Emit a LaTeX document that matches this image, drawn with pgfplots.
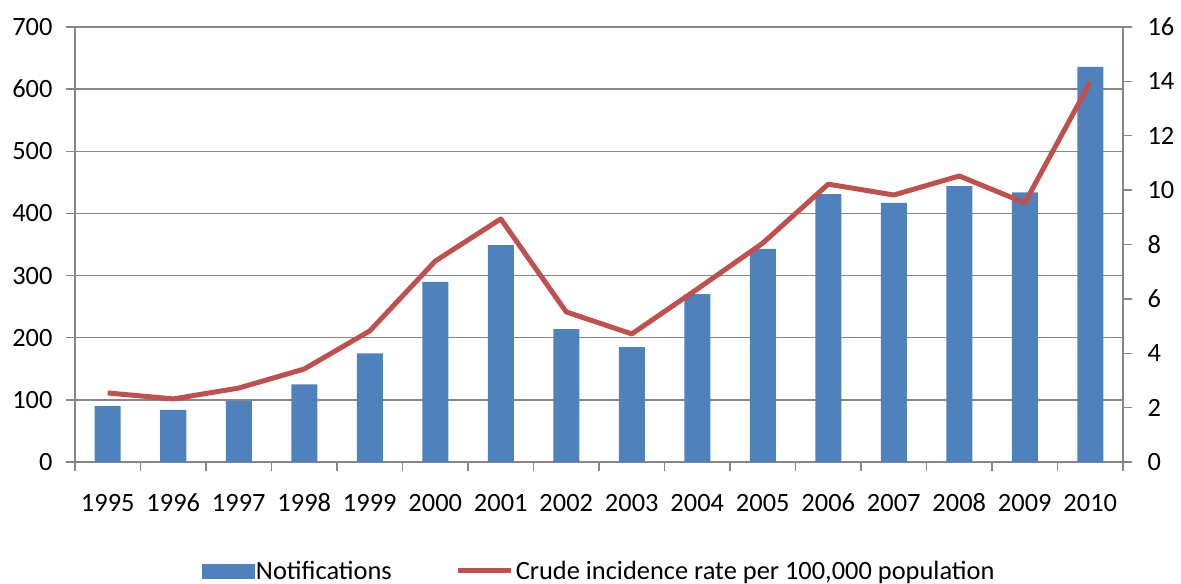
\documentclass[border=0pt]{standalone}
\usepackage{pgfplots}
\pgfplotsset{compat=1.18}
\usepackage{fontspec}
\setmainfont{Carlito}
\definecolor{barblue}{HTML}{4F81BD}
\definecolor{redline}{HTML}{C0504D}
\definecolor{gridgray}{HTML}{868686}
\begin{document}
\begin{tikzpicture}
\useasboundingbox (-75bp,-122bp) rectangle (1106bp,462bp);
\pgfplotsset{
  common/.style={
    width=1048bp, height=435bp, scale only axis,
    at={(0,0)}, anchor=south west,
    xmin=-0.5, xmax=15.5,
    /pgf/number format/assume math mode=true,
    ticklabel style={font=\fontsize{26.5}{30}\selectfont, text=black},
    tick align=outside,
    axis line style={draw=gridgray, line width=1.3bp},
    every tick/.style={draw=gridgray, line width=1.3bp},
    major tick length=9bp, minor tick length=9bp,
  }
}
\begin{axis}[common,
  ymin=0, ymax=700, ytick={0,100,...,700},
  axis x line*=bottom, axis y line*=left,
  ymajorgrids, grid style={draw=gridgray, line width=1.3bp},
  xtick={0,...,15},
  xticklabels={1995,1996,1997,1998,1999,2000,2001,2002,2003,2004,2005,2006,2007,2008,2009,2010},
  major x tick style={draw=none},
  minor xtick={-0.5,0.5,...,15.5},
  xticklabel style={yshift=-19bp, text height=18bp, text depth=0bp},
  yticklabel style={xshift=-10bp},
  ybar, bar width=26bp,
]
\addplot[fill=barblue, draw=none] coordinates {
(0,90) (1,84) (2,98) (3,125) (4,175) (5,290) (6,349) (7,214)
(8,185) (9,270) (10,343) (11,431) (12,417) (13,444) (14,434) (15,636)};
\end{axis}
\begin{axis}[common,
  ymin=0, ymax=16, ytick={0,2,...,16},
  axis y line*=right, axis x line=none,
  yticklabel style={xshift=12bp},
  legend style={at={(0.5,-0.25)}, anchor=center, draw=none, fill=none,
    font=\fontsize{26.5}{30}\selectfont, legend columns=2,
    /tikz/every even column/.append style={column sep=62bp}},
]
\addlegendimage{legend image code/.code={\fill[barblue] (0bp,-7bp) rectangle (52bp,7bp);}}
\addlegendentry{Notifications}
\addlegendimage{legend image code/.code={\draw[redline, line width=5bp] (0bp,0bp) -- (53bp,0bp);}}
\addlegendentry{Crude incidence rate per 100,000 population}
\addplot[redline, line width=5bp, mark=none, line join=round] coordinates {
(0,2.54) (1,2.32) (2,2.72) (3,3.42) (4,4.82) (5,7.39) (6,8.94) (7,5.52)
(8,4.71) (9,6.36) (10,8.05) (11,10.22) (12,9.82) (13,10.52) (14,9.53) (15,13.97)};
\end{axis}
\end{tikzpicture}
\end{document}
